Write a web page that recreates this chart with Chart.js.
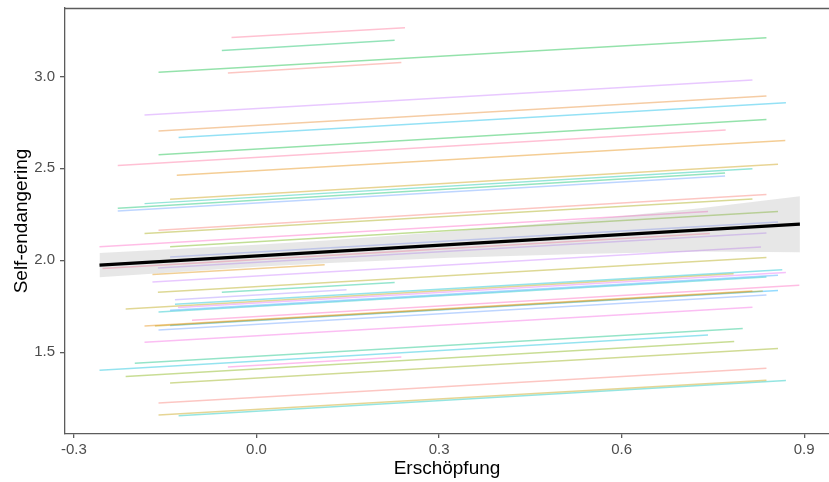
<!DOCTYPE html>
<html>
<head>
<meta charset="utf-8">
<script src="https://cdn.jsdelivr.net/npm/chart.js@4.4.1/dist/chart.umd.min.js"></script>
<style>
  body { margin: 0; background: #fff; }
  #wrap { width: 829px; height: 482px; }
</style>
</head>
<body>
<div id="wrap"><canvas id="chart" width="829" height="482"></canvas></div>
<script>
// one segment per person: start / end of Erschöpfung and predicted Self-endangering
const personStartX = [-0.041, -0.057, -0.161, -0.047, -0.184, -0.161, -0.128, -0.161, -0.228, -0.131,
                      -0.142, -0.184, -0.228, -0.228, -0.161, -0.184, -0.258, -0.142, -0.142, -0.253,
                      -0.162, -0.171, -0.171, -0.162, -0.057, -0.134, -0.134, -0.129, -0.215, -0.142,
                      -0.161, -0.106, -0.184, -0.167, -0.142, -0.161, -0.184, -0.200, -0.258, -0.047,
                      -0.215, -0.142, -0.161, -0.161, -0.128];
const personEndX   = [0.244, 0.227, 0.838, 0.238, 0.815, 0.838, 0.870, 0.838, 0.771, 0.869,
                      0.857, 0.815, 0.770, 0.770, 0.838, 0.815, 0.742, 0.857, 0.857, 0.745,
                      0.838, 0.112, 0.829, 0.838, 0.227, 0.148, 0.864, 0.870, 0.784, 0.857,
                      0.838, 0.892, 0.815, 0.832, 0.857, 0.838, 0.815, 0.799, 0.742, 0.238,
                      0.785, 0.857, 0.838, 0.838, 0.870];
const personStartY = [3.212, 3.141, 3.022, 3.018, 2.790, 2.703, 2.667, 2.574, 2.516, 2.462,
                      2.332, 2.308, 2.283, 2.268, 2.163, 2.145, 2.074, 2.074, 2.018, 1.955,
                      1.958, 1.922, 1.882, 1.826, 1.826, 1.785, 1.761, 1.743, 1.735, 1.728,
                      1.719, 1.674, 1.643, 1.643, 1.645, 1.621, 1.554, 1.440, 1.402, 1.420,
                      1.368, 1.332, 1.223, 1.158, 1.154];
const personEndY   = [3.265, 3.196, 3.210, 3.076, 2.980, 2.893, 2.857, 2.766, 2.708, 2.651,
                      2.522, 2.498, 2.474, 2.458, 2.357, 2.333, 2.265, 2.265, 2.208, 2.145,
                      2.148, 1.976, 2.072, 2.015, 1.879, 1.840, 1.949, 1.933, 1.926, 1.918,
                      1.909, 1.864, 1.833, 1.833, 1.835, 1.811, 1.745, 1.629, 1.594, 1.474,
                      1.558, 1.520, 1.413, 1.348, 1.346];
const personColors = ['#FF6C91', '#00BC59', '#00BA38', '#F8766D', '#C77CFF', '#E88526', '#00B8E7', '#00BA38', '#FF6A98', '#E58700',
                      '#C99800', '#00C1A3', '#00BE67', '#619CFF', '#F8766D', '#A3A500', '#FF61C3', '#6BB100', '#8494FF', '#FF6C91',
                      '#B983FF', '#DE8C00', '#C77CFF', '#ADA200', '#00C08B', '#A58AFF', '#00BDD0', '#E76BF3', '#B79F00', '#35A2FF',
                      '#00BFC4', '#FF62BC', '#E58700', '#B79F00', '#00A9FF', '#619CFF', '#F564E3', '#00BF7D', '#00BCD8', '#FB61D7',
                      '#7CAE00', '#8FAA00', '#F8766D', '#C49A00', '#00C0B8'];

// overall fixed effect and its confidence band
const fixedX = [-0.258, 0.893];
const fixedY = [1.974, 2.196];
const bandX = [-0.258, 0.0, 0.12, 0.317, 0.531, 0.729, 0.893];
const bandUpper = [2.040, 2.084, 2.109, 2.157, 2.218, 2.283, 2.348];
const bandLower = [1.908, 1.964, 1.985, 2.013, 2.034, 2.047, 2.044];

const xTicks = [-0.3, 0.0, 0.3, 0.6, 0.9];
const yTicks = [1.5, 2.0, 2.5, 3.0];

const hexToRgba = (hex, a) => {
    const n = parseInt(hex.slice(1), 16);
    return `rgba(${(n >> 16) & 255}, ${(n >> 8) & 255}, ${n & 255}, ${a})`;
};
const pts = (xs, ys) => xs.map((x, i) => ({ x: x, y: ys[i] }));

const datasets = [
    {
        data: pts(fixedX, fixedY),
        borderColor: '#000',
        borderWidth: 3.2,
        pointRadius: 0,
        fill: false
    },
    {
        data: pts(bandX, bandUpper),
        borderWidth: 0,
        borderColor: 'rgba(0,0,0,0)',
        pointRadius: 0,
        fill: false
    },
    {
        data: pts(bandX, bandLower),
        borderWidth: 0,
        borderColor: 'rgba(0,0,0,0)',
        backgroundColor: 'rgba(153,153,153,0.24)',
        pointRadius: 0,
        fill: '-1'
    }
];
personStartX.forEach((x0, i) => {
    datasets.push({
        data: [{ x: x0, y: personStartY[i] }, { x: personEndX[i], y: personEndY[i] }],
        borderColor: hexToRgba(personColors[i], 0.42),
        borderWidth: 1.5,
        pointRadius: 0,
        fill: false
    });
});

const axisGrey = '#5c5c5c';
const tickFont = { family: "'Liberation Sans', Arial, sans-serif", size: 15 };
const titleFont = { family: "'Liberation Sans', Arial, sans-serif", size: 19 };

const panelTop = {
    id: 'panelTop',
    afterDatasetsDraw(chart) {
        const { ctx, chartArea } = chart;
        ctx.save();
        ctx.strokeStyle = axisGrey;
        ctx.lineWidth = 1.3;
        ctx.beginPath();
        ctx.moveTo(chartArea.left, chartArea.top + 0.5);
        ctx.lineTo(chartArea.right, chartArea.top + 0.5);
        ctx.stroke();
        ctx.restore();
    }
};

new Chart(document.getElementById('chart').getContext('2d'), {
    type: 'line',
    data: { datasets: datasets },
    plugins: [panelTop],
    options: {
        responsive: false,
        animation: false,
        layout: { padding: { top: 8, right: 0, bottom: 0, left: 0 } },
        plugins: { legend: { display: false }, tooltip: { enabled: false } },
        scales: {
            x: {
                type: 'linear',
                min: -0.3147,
                max: 0.9408,
                afterBuildTicks: s => { s.ticks = xTicks.map(v => ({ value: v })); },
                afterFit: s => { s.height = 48; s.paddingLeft = 0; s.paddingRight = 0; },
                ticks: {
                    color: '#4d4d4d',
                    font: tickFont,
                    padding: 3,
                    maxRotation: 0,
                    callback: v => v.toFixed(1)
                },
                grid: { drawOnChartArea: false, drawTicks: true, tickLength: 4, color: axisGrey, lineWidth: 1.3 },
                border: { display: true, color: axisGrey, width: 1.3 },
                title: { display: true, text: 'Erschöpfung', color: '#000', font: titleFont, padding: { top: 0, bottom: 2 } }
            },
            y: {
                type: 'linear',
                min: 1.055,
                max: 3.372,
                afterBuildTicks: s => { s.ticks = yTicks.map(v => ({ value: v })); },
                afterFit: s => { s.width = 65; s.paddingTop = 0; s.paddingBottom = 0; },
                ticks: {
                    color: '#4d4d4d',
                    font: tickFont,
                    padding: 5,
                    callback: v => v.toFixed(1)
                },
                grid: { drawOnChartArea: false, drawTicks: true, tickLength: 5, color: axisGrey, lineWidth: 1.3 },
                border: { display: true, color: axisGrey, width: 1.3 },
                title: { display: true, text: 'Self-endangering', color: '#000', font: titleFont, padding: { top: 10, bottom: 0 } }
            }
        }
    }
});
</script>
</body>
</html>
